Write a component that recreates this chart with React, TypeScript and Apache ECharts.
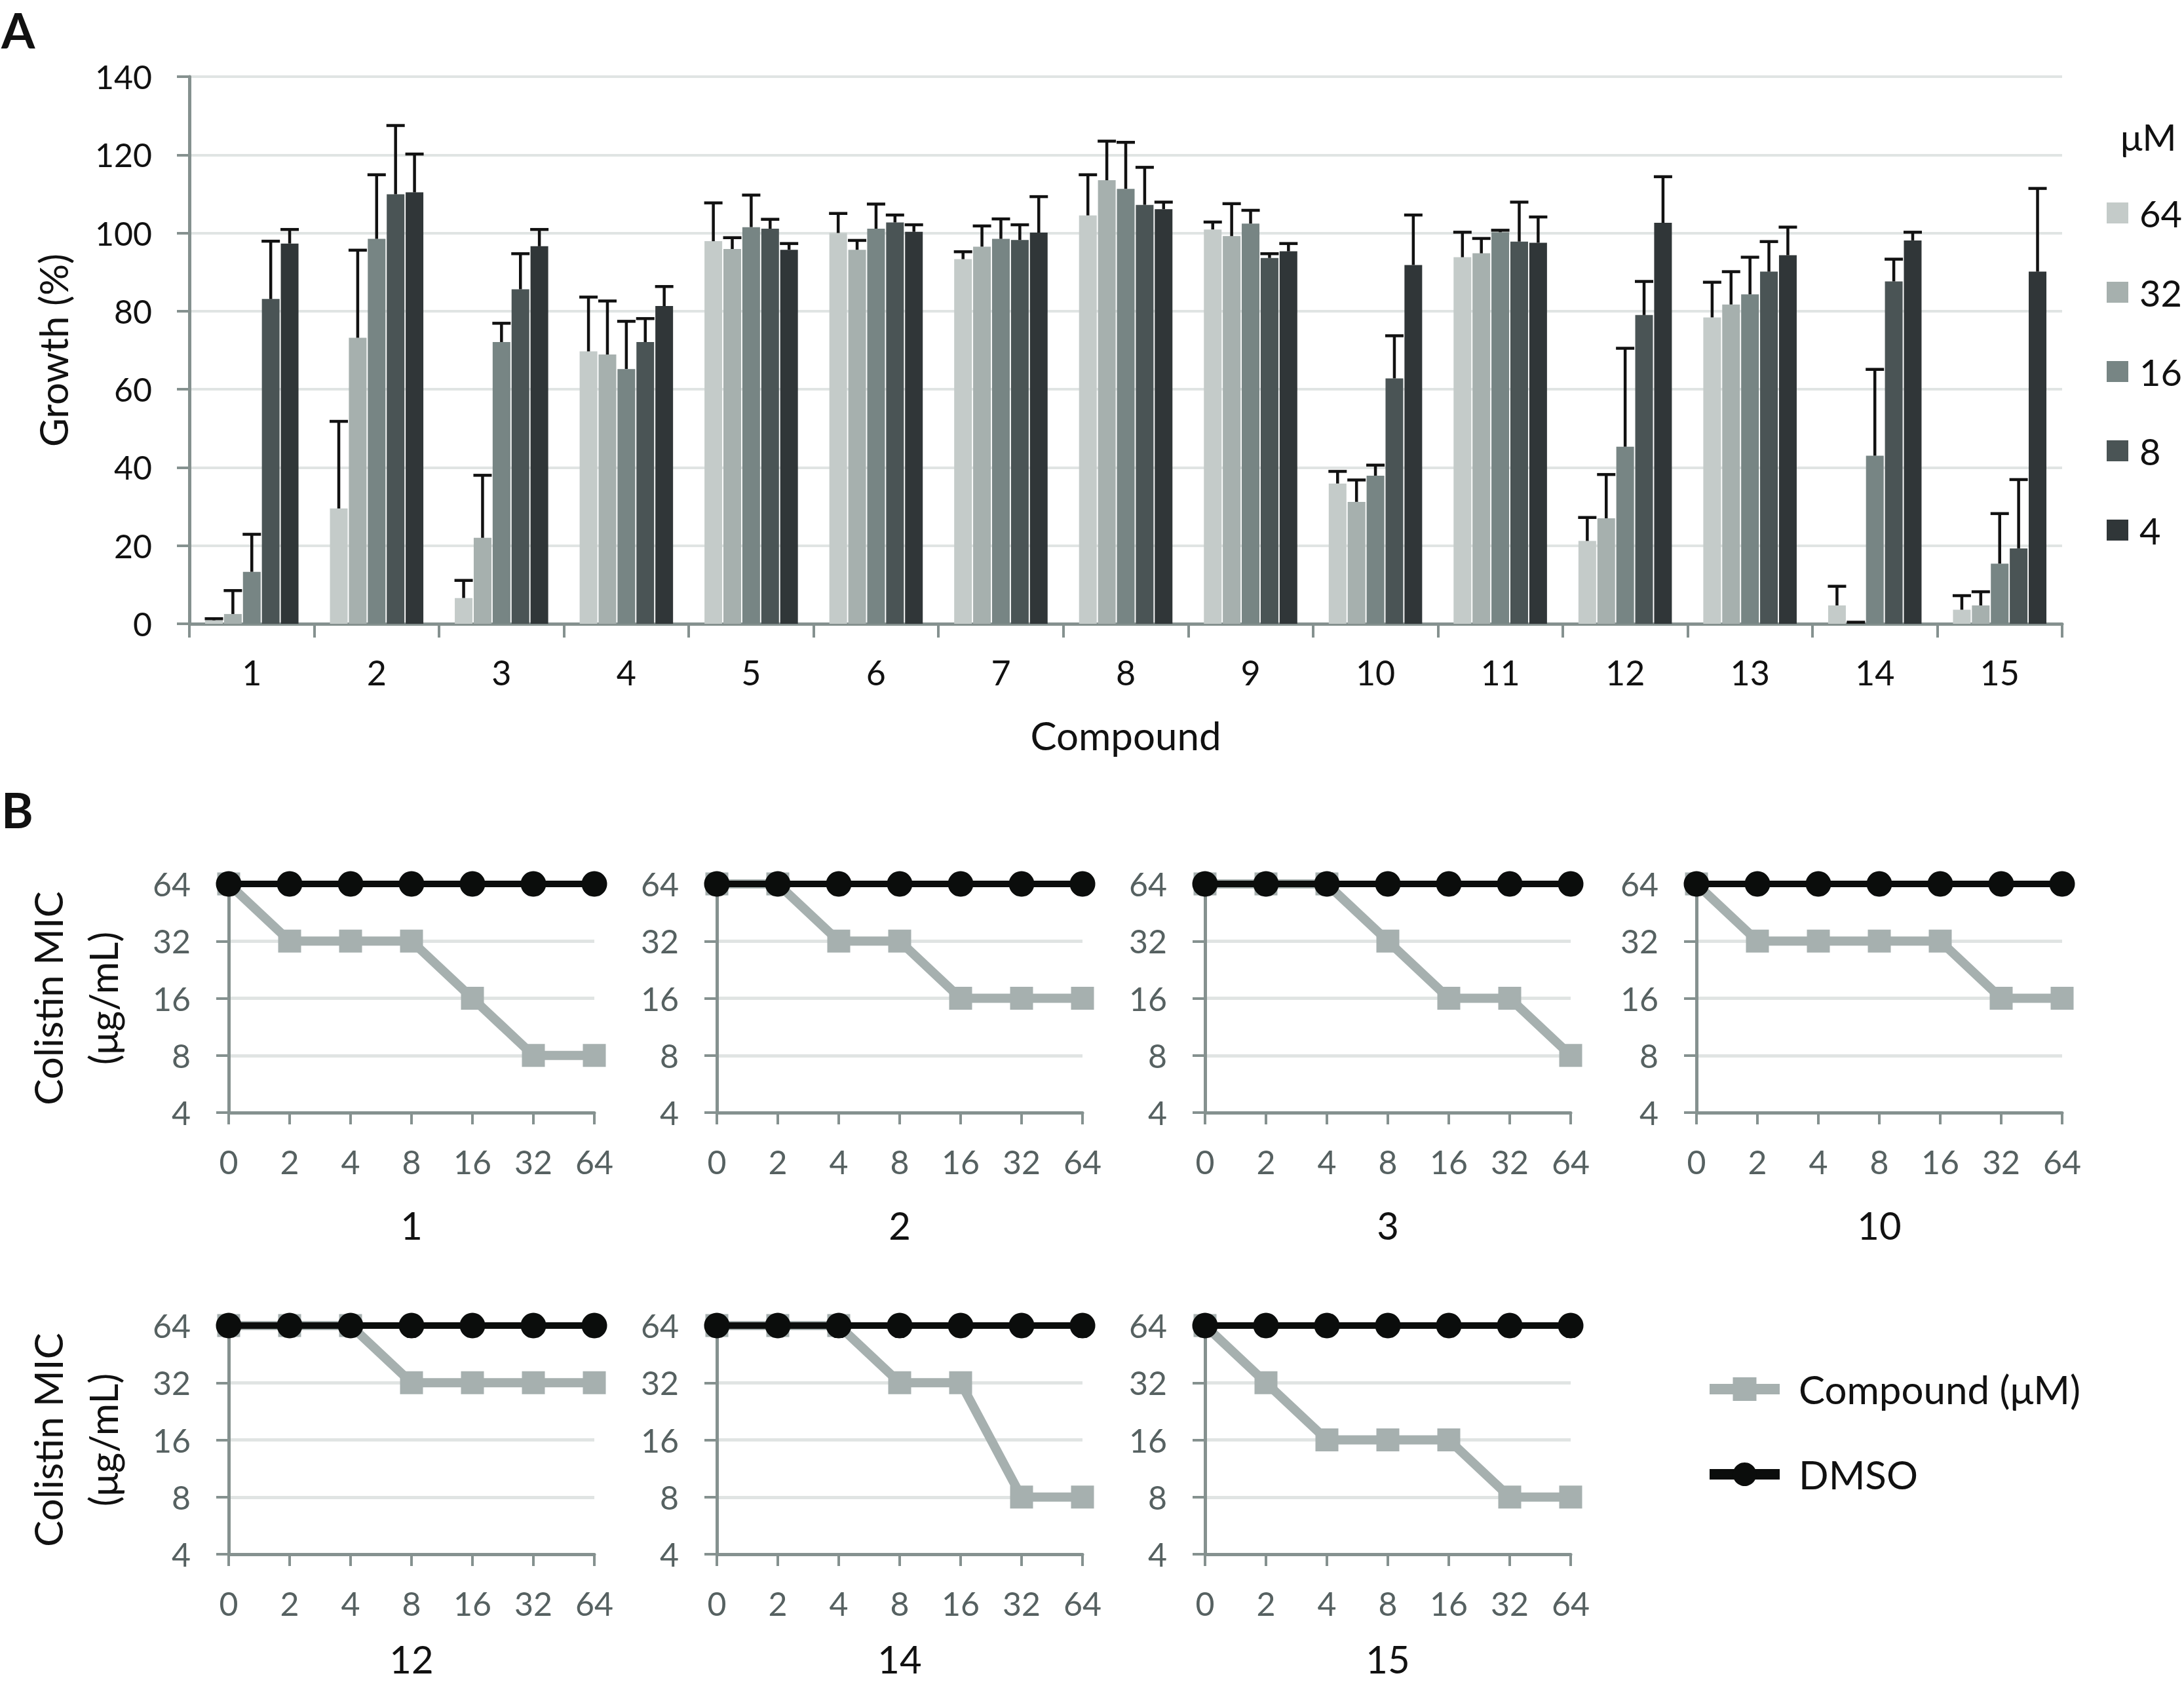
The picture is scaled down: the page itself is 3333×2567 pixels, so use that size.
import React, { useEffect, useRef } from 'react';
import * as echarts from 'echarts';

// ---------- Panel A data ----------
const compounds = ['1', '2', '3', '4', '5', '6', '7', '8', '9', '10', '11', '12', '13', '14', '15'];
const concentrations = ['64', '32', '16', '8', '4'];
const growth64 = [0.9, 29.5, 6.6, 69.7, 97.9, 100.0, 93.3, 104.5, 100.9, 35.9, 93.8, 21.2, 78.4, 4.7, 3.6];
const growth32 = [2.5, 73.2, 22.0, 68.9, 95.9, 95.7, 96.5, 113.5, 99.2, 31.2, 94.8, 27.0, 81.7, 0.3, 4.7];
const growth16 = [13.3, 98.5, 72.1, 65.2, 101.5, 101.1, 98.5, 111.3, 102.4, 37.9, 100.2, 45.3, 84.3, 43.0, 15.4];
const growth8 = [83.1, 109.9, 85.6, 72.1, 101.1, 102.7, 98.2, 107.2, 93.6, 62.8, 97.8, 79.0, 90.1, 87.6, 19.3];
const growth4 = [97.3, 110.4, 96.6, 81.3, 95.7, 100.3, 100.1, 106.1, 95.3, 91.8, 97.5, 102.6, 94.3, 98.1, 90.1];
const sd64 = [0.4, 22.3, 4.5, 13.9, 9.8, 5.0, 1.9, 10.4, 1.9, 3.1, 6.4, 6.0, 9.0, 4.9, 3.6];
const sd32 = [6.0, 22.4, 16.0, 13.7, 2.9, 2.4, 5.3, 10.0, 8.3, 5.6, 3.8, 11.2, 8.4, 0.1, 3.5];
const sd16 = [9.6, 16.4, 4.8, 12.2, 8.2, 6.3, 5.1, 11.9, 3.4, 2.7, 0.5, 25.2, 9.5, 22.1, 12.8];
const sd8 = [14.8, 17.6, 9.1, 6.0, 2.4, 1.9, 3.9, 9.6, 1.1, 10.9, 10.1, 8.6, 7.7, 5.7, 17.6];
const sd4 = [3.6, 9.8, 4.3, 5.0, 1.6, 1.8, 9.2, 1.8, 2.0, 12.8, 6.6, 11.8, 7.2, 2.1, 21.3];
const growthTicks = [0, 20, 40, 60, 80, 100, 120, 140];

// ---------- Panel B data ----------
const doses = ['0', '2', '4', '8', '16', '32', '64'];
const micTicks = [4, 8, 16, 32, 64];
const panelNames = ['1', '2', '3', '10', '12', '14', '15'];
const mic1 = [64, 32, 32, 32, 16, 8, 8];
const mic2 = [64, 64, 32, 32, 16, 16, 16];
const mic3 = [64, 64, 64, 32, 16, 16, 8];
const mic10 = [64, 32, 32, 32, 32, 16, 16];
const mic12 = [64, 64, 64, 32, 32, 32, 32];
const mic14 = [64, 64, 64, 32, 32, 8, 8];
const mic15 = [64, 32, 16, 16, 16, 8, 8];
const micDMSO = [64, 64, 64, 64, 64, 64, 64];

const FONT = 'Lato';
const barColors = ['#c4cbc9', '#a6b0ae', '#778584', '#4a5455', '#303638'];
const axisGray = '#85918f';
const gridGray = '#e0e4e3';
const tickTextB = '#566161';
const compoundColor = '#a6b0af';
const dmsoColor = '#0b0d0c';

const BAR_W = 27;
const BAR_GAP = 0.07;

function makeBarSeries(name: string, values: number[], color: string) {
  return {
    type: 'bar',
    name,
    xAxisIndex: 0,
    yAxisIndex: 0,
    data: values,
    barWidth: BAR_W,
    barGap: BAR_GAP * 100 + '%',
    itemStyle: { color },
    z: 2,
  };
}

function makeErrSeries(idx: number, means: number[], errs: number[]) {
  const offset = (idx - 2) * BAR_W * (1 + BAR_GAP);
  return {
    type: 'custom',
    name: 'err' + concentrations[idx],
    xAxisIndex: 0,
    yAxisIndex: 0,
    z: 5,
    data: compounds.map((c, j) => [j, means[j], errs[j]]),
    encode: { x: 0, y: 1 },
    renderItem: (params: any, api: any) => {
      const j = api.value(0);
      const m = api.value(1);
      const e = api.value(2);
      const base = api.coord([j, m]);
      const top = api.coord([j, m + e]);
      const x = base[0] + offset;
      const half = 14;
      const style = { stroke: '#111111', lineWidth: 4.5 };
      return {
        type: 'group',
        children: [
          { type: 'line', shape: { x1: x, y1: base[1], x2: x, y2: top[1] }, style },
          { type: 'line', shape: { x1: x - half, y1: top[1], x2: x + half, y2: top[1] }, style },
        ],
      };
    },
  };
}

const mics = [mic1, mic2, mic3, mic10, mic12, mic14, mic15];

export default function App() {
  const ref = useRef<HTMLDivElement>(null);

  useEffect(() => {
    if (!ref.current) return;
    const chart = echarts.init(ref.current, undefined, { renderer: 'svg' });

    const colLeft = [349, 1094, 1839, 2589];
    const rowTop = [1349, 2023];
    const gridsB = panelNames.map((_, k) => {
      const r = k < 4 ? 0 : 1;
      const c = k < 4 ? k : k - 4;
      return { left: colLeft[c], top: rowTop[r], width: 558, height: 349 };
    });

    const grids: any[] = [{ left: 289, top: 117, width: 2858, height: 835 }, ...gridsB];

    const xAxes: any[] = [
      {
        type: 'category',
        gridIndex: 0,
        data: compounds,
        axisLine: { show: true, lineStyle: { color: axisGray, width: 5 } },
        axisTick: { show: true, length: 21, lineStyle: { color: axisGray, width: 4 } },
        axisLabel: { fontSize: 52, color: '#111', fontFamily: FONT, margin: 48 },
        name: 'Compound',
        nameLocation: 'middle',
        nameGap: 140,
        nameTextStyle: { fontSize: 60, color: '#111', fontFamily: FONT },
      },
    ];
    const yAxes: any[] = [
      {
        type: 'value',
        gridIndex: 0,
        min: growthTicks[0],
        max: growthTicks[growthTicks.length - 1],
        interval: 20,
        axisLine: { show: true, lineStyle: { color: axisGray, width: 5 } },
        axisTick: { show: true, length: 19, lineStyle: { color: axisGray, width: 4 } },
        splitLine: { show: true, lineStyle: { color: gridGray, width: 4 } },
        axisLabel: { fontSize: 50, color: '#111', fontFamily: FONT, margin: 57 },
        name: 'Growth (%)',
        nameLocation: 'middle',
        nameGap: 178,
        nameRotate: 90,
        nameTextStyle: { fontSize: 60, color: '#111', fontFamily: FONT },
      },
    ];

    panelNames.forEach((title, k) => {
      const gi = k + 1;
      const firstCol = k === 0 || k === 4;
      const secondRow = k >= 4;
      xAxes.push({
        type: 'category',
        gridIndex: gi,
        data: doses,
        boundaryGap: false,
        axisLine: { show: true, lineStyle: { color: axisGray, width: 5 } },
        axisTick: { show: true, length: 18, lineStyle: { color: axisGray, width: 4 } },
        axisLabel: { fontSize: 50, color: tickTextB, fontFamily: FONT, margin: 50, interval: 0 },
        name: title,
        nameLocation: 'middle',
        nameGap: secondRow ? 130 : 142,
        nameTextStyle: { fontSize: 58, color: '#111', fontFamily: FONT },
      });
      yAxes.push({
        type: 'log',
        logBase: 2,
        gridIndex: gi,
        min: micTicks[0],
        max: micTicks[micTicks.length - 1],
        axisLine: { show: true, lineStyle: { color: axisGray, width: 5 } },
        axisTick: { show: true, length: 19, lineStyle: { color: axisGray, width: 4 } },
        splitLine: { show: true, lineStyle: { color: gridGray, width: 5 } },
        axisLabel: { fontSize: 50, color: tickTextB, fontFamily: FONT, margin: 58 },
        name: firstCol ? 'Colistin MIC\n(μg/mL)' : '',
        nameLocation: 'middle',
        nameGap: 150,
        nameRotate: 90,
        nameTextStyle: { fontSize: 60, color: '#111', fontFamily: FONT, lineHeight: 84 },
      });
    });

    const series: any[] = [
      makeBarSeries('64', growth64, barColors[0]),
      makeBarSeries('32', growth32, barColors[1]),
      makeBarSeries('16', growth16, barColors[2]),
      makeBarSeries('8', growth8, barColors[3]),
      makeBarSeries('4', growth4, barColors[4]),
      makeErrSeries(0, growth64, sd64),
      makeErrSeries(1, growth32, sd32),
      makeErrSeries(2, growth16, sd16),
      makeErrSeries(3, growth8, sd8),
      makeErrSeries(4, growth4, sd4),
    ];

    mics.forEach((m, k) => {
      const gi = k + 1;
      series.push({
        type: 'line',
        name: 'Compound (μM)',
        xAxisIndex: gi,
        yAxisIndex: gi,
        data: m,
        symbol: 'rect',
        symbolSize: 35,
        lineStyle: { color: compoundColor, width: 14 },
        itemStyle: { color: compoundColor },
        z: 3,
      });
      series.push({
        type: 'line',
        name: 'DMSO',
        xAxisIndex: gi,
        yAxisIndex: gi,
        data: micDMSO,
        symbol: 'circle',
        symbolSize: 39,
        lineStyle: { color: dmsoColor, width: 10 },
        itemStyle: { color: dmsoColor },
        z: 4,
      });
    });

    chart.setOption({
      animation: false,
      backgroundColor: '#ffffff',
      grid: grids,
      xAxis: xAxes,
      yAxis: yAxes,
      series,
      legend: [
        {
          data: concentrations,
          orient: 'vertical',
          left: 3215,
          top: 297,
          padding: 0,
          itemWidth: 33,
          itemHeight: 32,
          itemGap: 65,
          icon: 'rect',
          selectedMode: false,
          textStyle: { fontSize: 56, color: '#111', fontFamily: FONT, lineHeight: 56, padding: [0, 0, 0, 12] },
        },
        {
          data: ['Compound (μM)', 'DMSO'],
          orient: 'vertical',
          left: 2601,
          top: 2090,
          padding: 0,
          itemWidth: 107,
          itemHeight: 45,
          itemGap: 70,
          selectedMode: false,
          lineStyle: { width: 16 },
          textStyle: { fontSize: 60, color: '#111', fontFamily: FONT, lineHeight: 60, padding: [0, 0, 0, 24] },
        },
      ],
      graphic: [
        { type: 'text', left: 2, top: 8, style: { text: 'A', fontSize: 74, fontWeight: 'bold', fontFamily: FONT, fill: '#111' } },
        { type: 'text', left: 2, top: 1198, style: { text: 'B', fontSize: 74, fontWeight: 'bold', fontFamily: FONT, fill: '#111' } },
        { type: 'text', left: 3236, top: 180, style: { text: 'μM', fontSize: 56, fontFamily: FONT, fill: '#111' } },
      ],
    });

    return () => chart.dispose();
  }, []);

  return (
    <div
      ref={ref}
      style={{ position: 'fixed', left: 0, top: 0, width: 3333, height: 2567, background: '#fff' }}
    />
  );
}
